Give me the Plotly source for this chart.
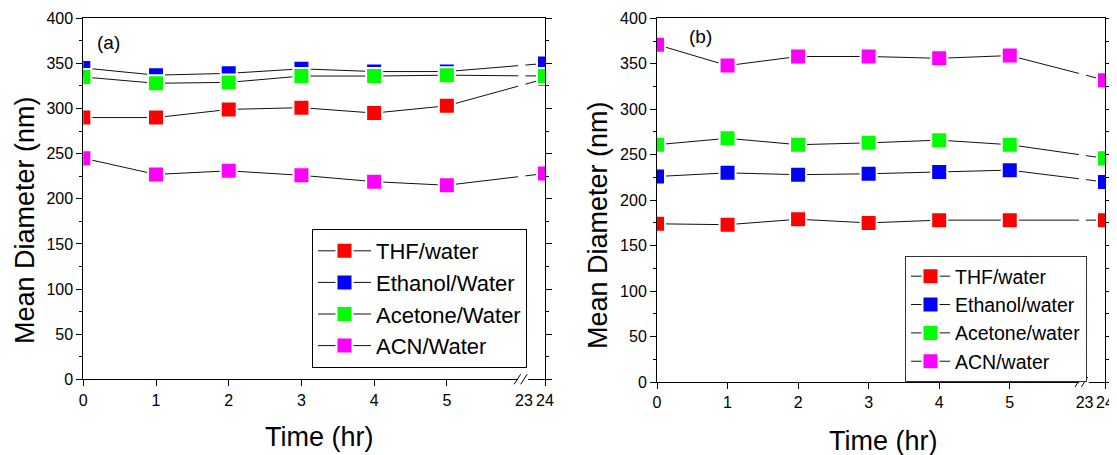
import plotly.graph_objects as go

# ---------------- data ----------------
time_hr = [0, 1, 2, 3, 4, 5, 24]
tick_hours = [0, 1, 2, 3, 4, 5, 23, 24]
tick_labels = ["0", "1", "2", "3", "4", "5", "23", "24"]
y_ticks = [0, 50, 100, 150, 200, 250, 300, 350, 400]

names_a = ["THF/water", "Ethanol/Water", "Acetone/Water", "ACN/Water"]
names_b = ["THF/water", "Ethanol/water", "Acetone/water", "ACN/water"]

a_thf = [290, 290, 299, 301, 295, 303, 333]
a_ethanol = [345, 337, 339, 344, 341, 341, 350]
a_acetone = [335, 328, 329, 336, 336, 337, 336]
a_acn = [245, 227, 231, 226, 219, 215, 228]

b_thf = [174, 173, 179, 175, 178, 178, 178]
b_ethanol = [226, 230, 228, 229, 231, 233, 220]
b_acetone = [261, 268, 261, 263, 266, 261, 246]
b_acn = [371, 348, 358, 358, 356, 359, 332]

colors = ["#ff0000", "#0000ff", "#00ff00", "#ff00ff"]

# ---------------- broken time axis (0-5 | 23-24) ----------------
BREAK_LO, BREAK_HI = 5, 23
SEG2_START, SEG2_SCALE = 6.06, 0.29
X_MAX = SEG2_START + (24 - BREAK_HI) * SEG2_SCALE


def axis_pos(t):
    return t if t <= BREAK_LO else SEG2_START + (t - BREAK_HI) * SEG2_SCALE


W, H = 1117, 455
OFF = 8  # page body margin


def px(X):
    return (X - OFF) / W


def py(Y):
    return 1 - (Y - OFF) / H


FONT = "Liberation Sans, Arial, sans-serif"

fig = go.Figure()

panels = [
    ("x", "y", names_a, [a_thf, a_ethanol, a_acetone, a_acn], "legend"),
    ("x2", "y2", names_b, [b_thf, b_ethanol, b_acetone, b_acn], "legend2"),
]
xs = [axis_pos(t) for t in time_hr]
for xa, ya, names, series, leg in panels:
    for name, vals, col in zip(names, series, colors):
        fig.add_trace(go.Scatter(
            x=xs, y=vals, name=name, mode="lines+markers",
            xaxis=xa, yaxis=ya, legend=leg,
            line=dict(color="#111111", width=1),
            marker=dict(symbol="square", size=16, color=col,
                        line=dict(color="white", width=2)),
            cliponaxis=True,
        ))

dom_a_x = [px(83.3), px(545)]
dom_b_x = [px(657), px(1105)]
dom_a_y = [py(379.3), py(18.3)]
dom_b_y = [py(382), py(18.3)]

xaxis_common = dict(
    range=[0, X_MAX], tickmode="array",
    tickvals=[axis_pos(t) for t in tick_hours], ticktext=tick_labels,
    ticks="outside", ticklen=6, tickwidth=1, tickcolor="black",
    showline=True, linecolor="black", linewidth=1, mirror=True,
    showgrid=False, zeroline=False, automargin=False,
    tickfont=dict(family=FONT, size=16, color="black"),
)
yaxis_common = dict(
    range=[0, 400], tickmode="array", tickvals=y_ticks,
    ticks="outside", ticklen=6, tickwidth=1, tickcolor="black",
    minor=dict(dtick=25, ticks="outside", ticklen=3, tickcolor="black"),
    showline=True, linecolor="black", linewidth=1, mirror="ticks",
    showgrid=False, zeroline=False, automargin=False,
    tickfont=dict(family=FONT, size=16, color="black"),
)

fig.update_layout(
    width=W, height=H,
    margin=dict(l=0, r=0, t=0, b=0, pad=0, autoexpand=False),
    paper_bgcolor="white", plot_bgcolor="white",
    font=dict(family=FONT, color="black"),
    xaxis=dict(domain=dom_a_x, anchor="y", **xaxis_common),
    yaxis=dict(domain=dom_a_y, anchor="x", **yaxis_common),
    xaxis2=dict(domain=dom_b_x, anchor="y2", **xaxis_common),
    yaxis2=dict(domain=dom_b_y, anchor="x2", **yaxis_common),
    legend=dict(x=px(312), y=py(229), xanchor="left", yanchor="top",
                bgcolor="white", bordercolor="black", borderwidth=1,
                font=dict(family=FONT, size=22, color="black"),
                itemwidth=53, tracegroupgap=0),
    legend2=dict(x=px(905), y=py(256), xanchor="left", yanchor="top",
                 bgcolor="white", bordercolor="#333333", borderwidth=1,
                 font=dict(family=FONT, size=19.5, color="black"),
                 itemwidth=39, tracegroupgap=0),
    showlegend=True,
)

# axis break decorations
shapes = []
for xa, ya, dom_y in [("x", "y", dom_a_y), ("x2", "y2", dom_b_y)]:
    # gap in the connecting lines
    shapes.append(dict(type="rect", xref=xa, yref=ya, x0=5.98, x1=6.08,
                       y0=1, y1=399, fillcolor="white", line=dict(width=0),
                       layer="above"))
    # gap in the bottom axis line
    shapes.append(dict(type="rect", xref=xa, yref="paper", x0=5.98, x1=6.12,
                       y0=dom_y[0] - 0.015, y1=dom_y[0] + 0.004,
                       fillcolor="white", line=dict(width=0), layer="above"))
    # the // marks
    for cx in [5.97, 6.06]:
        shapes.append(dict(type="line", xref=xa, yref="paper",
                           x0=cx - 0.045, x1=cx + 0.045,
                           y0=dom_y[0] - 0.011, y1=dom_y[0] + 0.011,
                           line=dict(color="black", width=1), layer="above"))
fig.update_layout(shapes=shapes)


def label(text, X, Y, size, angle=0):
    return dict(text=text, x=px(X), y=py(Y), xref="paper", yref="paper",
                xanchor="center", yanchor="middle", textangle=angle,
                showarrow=False, font=dict(family=FONT, size=size))


annotations = [
    label("(a)", 108, 43, 19),
    label("(b)", 700, 36, 19),
    label("Mean Diameter (nm)", 25, 220, 27, -90),
    label("Mean Diameter (nm)", 598, 225, 27, -90),
    label("Time (hr)", 319, 437, 27),
    label("Time (hr)", 883, 441, 27),
]
fig.update_layout(annotations=annotations)

fig.write_html("out.html")
